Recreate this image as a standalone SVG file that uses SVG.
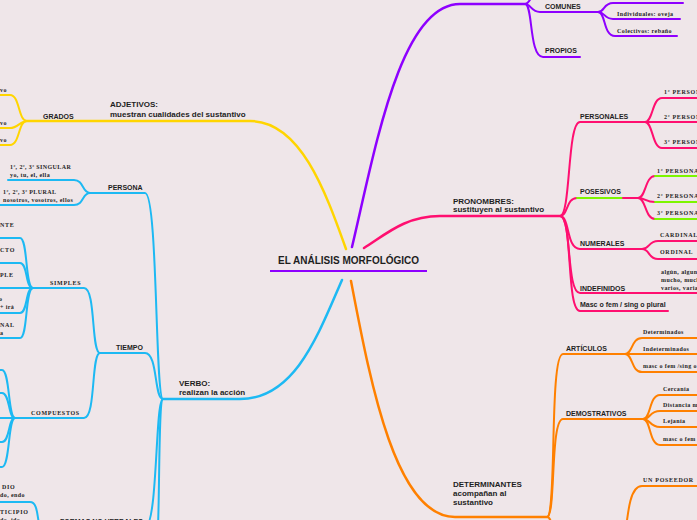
<svg xmlns="http://www.w3.org/2000/svg" width="697" height="520" viewBox="0 0 697 520">
<style>
.c{fill:none;stroke-width:2;stroke-linecap:round}
.m{stroke-width:2.5}
.y{stroke:#FFD500}.b{stroke:#1DB9F3}.p{stroke:#8E00FF}.k{stroke:#FF0F70}.g{stroke:#7DF500}.o{stroke:#FF8000}
text{fill:#1e1e1e}
.t0{font-family:"Liberation Sans",Arial,sans-serif;font-weight:bold;font-size:10px}
.t1{font-family:"Liberation Sans",Arial,sans-serif;font-weight:bold;font-size:8px}
.t2{font-family:"Liberation Sans",Arial,sans-serif;font-weight:bold;font-size:7px}
.t3{font-family:"Liberation Serif","Times New Roman",serif;font-weight:bold;font-size:6px;letter-spacing:0.4px}
.t4{font-family:"Liberation Serif","Times New Roman",serif;font-weight:bold;font-size:6px;letter-spacing:0.7px}
</style>
<rect width="697" height="520" fill="#EFE6E9"/>
<g id="connectors">
<!-- yellow -->
<path class="c m y" d="M346,249 C325,190 300,121 250,121 L27,121"/>
<path class="c y" d="M27,121 C18,121 20,95 10,95 L0,95"/>
<path class="c y" d="M27,121 C20,121 18,128 10,128 L0,128"/>
<path class="c y" d="M27,121 C18,121 20,145 10,145 L0,145"/>
<!-- blue -->
<path class="c m b" d="M342,280 C318,335 295,399 240,399 L163,399"/>
<path class="c b" d="M163,399 C155,399 158,193 145,193 L90,193"/>
<path class="c b" d="M163,399 C154,399 158,353 145,353 L100,353"/>
<path class="c b" d="M163,399 C155,399 158,527 145,527 L42,527"/>
<path class="c b" d="M163,399 C158,400 160,520 157,545"/>
<path class="c b" d="M90,193 C82,193 84,180 74,180 L8,180"/>
<path class="c b" d="M90,193 C82,193 84,205 74,205 L0,205"/>
<path class="c b" d="M100,353 C91,353 96,288 84,288 L33,288"/>
<path class="c b" d="M100,353 C91,353 96,418 84,418 L15,418"/>
<path class="c b" d="M33,288 C25,288 28,238 20,238 L0,238"/>
<path class="c b" d="M33,288 C25,288 28,263 20,263 L0,263"/>
<path class="c b" d="M33,288 L0,288"/>
<path class="c b" d="M33,288 C25,288 28,313 20,313 L0,313"/>
<path class="c b" d="M33,288 C25,288 28,338 20,338 L0,338"/>
<path class="c b" d="M15,418 C8,418 10,370 2,370 L-5,370"/>
<path class="c b" d="M15,418 C8,418 10,393 2,393 L-5,393"/>
<path class="c b" d="M15,418 L-5,418"/>
<path class="c b" d="M15,418 C8,418 10,442 2,442 L-5,442"/>
<path class="c b" d="M15,418 C8,418 10,467 2,467 L-5,467"/>
<path class="c b" d="M42,527 C36,527 40,502 30,502 L0,502"/>
<!-- purple -->
<path class="c m p" d="M352,247 C375,150 400,4 460,4 L525,4"/>
<path class="c p" d="M525,4 C531,4 530,-8 540,-8 L600,-8"/>
<path class="c p" d="M525,4 C531,4 531,12 540,12 L598,12"/>
<path class="c p" d="M525,4 C533,4 529,57 543,57 L580,57"/>
<path class="c p" d="M598,12 C605,12 603,3 613,3 L683,3"/>
<path class="c p" d="M598,12 C605,12 604,19 613,19 L680,19"/>
<path class="c p" d="M598,12 C606,12 603,36 615,36 L677,36"/>
<!-- pink -->
<path class="c m k" d="M364,248 C385,235 405,216 440,216 L560,216"/>
<path class="c k" d="M560,216 C571,216 567,122 580,122 L645,122"/>
<path class="c k" d="M560,216 C568,216 566,198 577,198"/>
<path class="c g" d="M577,198 L623,198"/>
<path class="c k" d="M623,198 L638,198"/>
<path class="c k" d="M560,216 C570,216 566,249 580,249 L642,249"/>
<path class="c k" d="M560,216 C572,216 566,293 580,293 L700,293"/>
<path class="c k" d="M560,216 C573,216 566,311 580,311 L668,311"/>
<path class="c k" d="M645,122 C653,122 652,98 662,98 L700,98"/>
<path class="c k" d="M645,122 L700,122"/>
<path class="c k" d="M645,122 C653,122 652,148 662,148 L700,148"/>
<path class="c k" d="M638,198 C646,198 645,176 655,176"/>
<path class="c k" d="M638,198 C646,198 645,202 655,202"/>
<path class="c k" d="M638,198 C646,198 645,219 655,219"/>
<path class="c g" d="M655,176 L700,176 M655,202 L700,202 M655,219 L700,219"/>
<path class="c k" d="M642,249 C650,249 648,241 658,241 L700,241"/>
<path class="c k" d="M642,249 C650,249 648,259 658,259 L700,259"/>
<!-- orange -->
<path class="c m o" d="M351,281 C370,380 395,517 455,517 L547,517"/>
<path class="c o" d="M547,517 C557,517 549,354 563,354 L625,354"/>
<path class="c o" d="M547,517 C556,517 550,419 563,419 L643,419"/>
<path class="c o" d="M547,517 C551,517 552,525 553,535"/>
<path class="c o" d="M624,545 C628,510 630,486 642,486 L700,486"/>
<path class="c o" d="M625,354 C633,354 631,338 642,338 L700,338"/>
<path class="c o" d="M625,354 L700,354"/>
<path class="c o" d="M625,354 C633,354 631,372 642,372 L700,372"/>
<path class="c o" d="M643,419 C651,419 649,395 660,395 L700,395"/>
<path class="c o" d="M643,419 C651,419 649,411 660,411 L700,411"/>
<path class="c o" d="M643,419 C651,419 649,427 660,427 L700,427"/>
<path class="c o" d="M643,419 C651,419 649,445 660,445 L700,445"/>
</g>
<g id="center">
<text class="t0" x="278" y="263.5">EL ANÁLISIS MORFOLÓGICO</text>
<path d="M270,271 L427,271" stroke="#8E00FF" stroke-width="2"/>
</g>
<g id="adjetivos"><text class="t1" x="110" y="107">ADJETIVOS:</text><text class="t1" x="110" y="116.5">muestran cualidades del sustantivo</text></g>
<g id="grados"><text class="t2" x="43" y="118.5">GRADOS</text></g>
<g id="grados-1"><text class="t3" x="0" y="92">vo</text></g>
<g id="grados-2"><text class="t3" x="0" y="124.5">vo</text></g>
<g id="grados-3"><text class="t3" x="0" y="142">vo</text></g>
<g id="verbo"><text class="t1" x="179" y="386">VERBO:</text><text class="t1" x="179" y="394.5">realizan la acción</text></g>
<g id="persona"><text class="t2" x="108" y="190">PERSONA</text></g>
<g id="singular"><text class="t3" x="10" y="169">1ª, 2ª, 3ª SINGULAR</text><text class="t3" x="10" y="177">yo, tu, el, ella</text></g>
<g id="plural"><text class="t3" x="3" y="194">1ª, 2ª, 3ª PLURAL</text><text class="t3" x="3" y="202">nosotros, vosotros, ellos</text></g>
<g id="tiempo"><text class="t2" x="116" y="349.5">TIEMPO</text></g>
<g id="simples"><text class="t4" x="50" y="284.5">SIMPLES</text></g>
<g id="simples-1"><text class="t4" x="0" y="227">NTE</text></g>
<g id="simples-2"><text class="t4" x="0" y="252">CTO</text></g>
<g id="simples-3"><text class="t4" x="0" y="277">PLE</text></g>
<g id="simples-4"><text class="t3" x="-1" y="301">o</text><text class="t3" x="0" y="309">+ irá</text></g>
<g id="simples-5"><text class="t4" x="0" y="327">NAL</text><text class="t3" x="0" y="335">a</text></g>
<g id="compuestos"><text class="t4" x="31" y="414.5">COMPUESTOS</text></g>
<g id="formas"><text class="t2" x="60" y="523.5">FORMAS NO VERBALES</text></g>
<g id="gerundio"><text class="t4" x="2" y="488.5">DIO</text><text class="t3" x="0" y="497">do, endo</text></g>
<g id="participio"><text class="t4" x="0" y="514">TICIPIO</text><text class="t3" x="0" y="522">do, ido</text></g>
<g id="comunes"><text class="t2" x="545" y="8.5">COMUNES</text></g>
<g id="individuales"><text class="t3" x="617" y="15.5">Individuales: oveja</text></g>
<g id="colectivos"><text class="t3" x="617" y="32.5">Colectivos: rebaño</text></g>
<g id="propios"><text class="t2" x="545" y="53">PROPIOS</text></g>
<g id="pronombres"><text class="t1" x="453" y="203.5">PRONOMBRES:</text><text class="t1" x="453" y="212">sustituyen al sustantivo</text></g>
<g id="personales"><text class="t2" x="580" y="119">PERSONALES</text></g>
<g id="pers-1"><text class="t4" x="664" y="93.5">1ª PERSONA</text></g>
<g id="pers-2"><text class="t4" x="664" y="118.5">2ª PERSONA</text></g>
<g id="pers-3"><text class="t4" x="664" y="143.5">3ª PERSONA</text></g>
<g id="posesivos"><text class="t2" x="580" y="194">POSESIVOS</text></g>
<g id="pos-1"><text class="t4" x="657" y="172.5">1ª PERSONA</text></g>
<g id="pos-2"><text class="t4" x="657" y="197.5">2ª PERSONA</text></g>
<g id="pos-3"><text class="t4" x="657" y="214.5">3ª PERSONA</text></g>
<g id="numerales"><text class="t2" x="580" y="245.5">NUMERALES</text></g>
<g id="cardinal"><text class="t4" x="660" y="237">CARDINAL</text></g>
<g id="ordinal"><text class="t4" x="660" y="254">ORDINAL</text></g>
<g id="indefinidos"><text class="t2" x="580" y="290.5">INDEFINIDOS</text></g>
<g id="indef-list"><text class="t3" x="661" y="274">algún, alguno</text><text class="t3" x="661" y="282">mucho, mucha</text><text class="t3" x="661" y="290">varios, varias</text></g>
<g id="masc-pron"><text class="t2" x="580" y="307">Masc o fem / sing o plural</text></g>
<g id="determinantes"><text class="t1" x="453" y="486.5">DETERMINANTES</text><text class="t1" x="453" y="495.5">acompañan al</text><text class="t1" x="453" y="504.5">sustantivo</text></g>
<g id="articulos"><text class="t2" x="566" y="351">ARTÍCULOS</text></g>
<g id="determinados"><text class="t3" x="643" y="334">Determinados</text></g>
<g id="indeterminados"><text class="t3" x="643" y="350.5">Indeterminados</text></g>
<g id="masc-art"><text class="t3" x="643" y="368">masc o fem /sing o plural</text></g>
<g id="demostrativos"><text class="t2" x="566" y="416">DEMOSTRATIVOS</text></g>
<g id="cercania"><text class="t3" x="663" y="390.5">Cercanía</text></g>
<g id="distancia"><text class="t3" x="663" y="407">Distancia media</text></g>
<g id="lejania"><text class="t3" x="663" y="423">Lejanía</text></g>
<g id="masc-dem"><text class="t3" x="663" y="440.5">masc o fem /sing o plural</text></g>
<g id="un-poseedor"><text class="t4" x="643" y="482">UN POSEEDOR</text></g>
</svg>
